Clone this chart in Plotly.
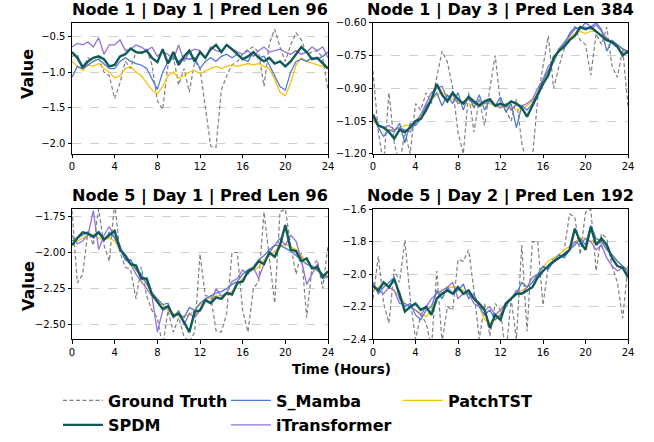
import plotly.graph_objects as go

HOURS = [0, 0.5, 1, 1.5, 2, 2.5, 3, 3.5, 4, 4.5, 5, 5.5, 6, 6.5, 7, 7.5, 8, 8.5, 9, 9.5,
         10, 10.5, 11, 11.5, 12, 12.5, 13, 13.5, 14, 14.5, 15, 15.5, 16, 16.5, 17, 17.5,
         18, 18.5, 19, 19.5, 20, 20.5, 21, 21.5, 22, 22.5, 23, 23.5, 24]

# ---- Node 1 | Day 1 | Pred Len 96 ----
p1_gt = [-0.78, -0.75, -0.95, -0.80, -0.85, -0.80, -1.00, -1.05, -1.37, -1.15, -0.85, -0.95, -0.72, -0.75,
         -0.68, -0.90, -1.40, -1.52, -0.90, -0.78, -1.18, -0.95, -1.28, -0.85, -0.95, -1.50, -2.03, -2.05,
         -1.25, -1.05, -0.90, -0.85, -0.75, -0.68, -0.65, -0.72, -1.20, -0.60, -0.40, -0.65, -0.85, -0.62,
         -0.45, -0.55, -0.75, -0.72, -0.70, -0.80, -1.25]
p1_spdm = [-0.72, -0.80, -0.93, -0.85, -0.80, -0.78, -0.82, -0.92, -0.90, -0.78, -0.75, -0.67, -0.72, -0.73,
           -0.70, -0.80, -0.86, -0.68, -0.88, -0.72, -0.90, -0.78, -0.70, -0.85, -0.72, -0.80, -0.68, -0.62,
           -0.72, -0.62, -0.68, -0.75, -0.82, -0.78, -0.72, -0.80, -0.85, -0.80, -0.88, -0.85, -0.92, -0.85,
           -0.75, -0.65, -0.72, -0.82, -0.80, -0.88, -0.95]
p1_smamba = [-1.07, -0.92, -0.95, -0.90, -0.85, -0.82, -0.88, -0.95, -0.95, -0.85, -0.80, -0.85, -0.88, -0.90,
             -0.95, -1.10, -1.24, -1.00, -0.85, -0.80, -0.85, -0.80, -0.82, -0.80, -0.95, -0.85, -0.80, -0.85,
             -0.78, -0.75, -0.80, -0.75, -0.82, -0.85, -0.72, -0.80, -0.78, -0.90, -1.05, -1.20, -1.25, -1.00,
             -0.85, -0.82, -0.85, -0.80, -0.82, -0.78, -0.72]
p1_itrans = [-0.65, -0.60, -0.62, -0.58, -0.65, -0.52, -0.75, -0.62, -0.62, -0.55, -0.70, -0.68, -0.62, -0.65,
             -0.70, -0.65, -0.78, -0.72, -0.75, -0.82, -0.62, -0.85, -0.72, -0.68, -0.70, -0.80, -0.65, -0.70,
             -0.72, -0.62, -0.68, -0.72, -0.75, -0.70, -0.78, -0.70, -0.65, -0.72, -0.70, -0.68, -0.72, -0.75,
             -0.70, -0.75, -0.72, -0.65, -0.70, -0.65, -0.80]
p1_patch = [-0.85, -0.92, -0.98, -0.90, -0.92, -0.88, -0.95, -1.00, -1.08, -1.05, -0.95, -0.92, -1.00, -1.05,
            -1.15, -1.25, -1.30, -1.20, -1.05, -1.00, -1.08, -1.05, -1.00, -0.98, -1.02, -0.98, -0.95, -0.92,
            -0.95, -0.92, -0.90, -0.92, -0.90, -0.88, -0.90, -0.88, -0.92, -0.95, -1.10, -1.28, -1.33, -1.15,
            -0.90, -0.80, -0.85, -0.88, -0.90, -0.92, -0.95]

# ---- Node 1 | Day 3 | Pred Len 384 ----
p2_gt = [-0.82, -1.10, -1.25, -0.92, -1.15, -1.25, -1.10, -1.20, -0.97, -1.00, -0.92, -0.97, -0.85, -0.73,
         -0.78, -0.90, -1.10, -1.20, -0.92, -1.10, -0.95, -1.07, -0.90, -0.75, -0.97, -1.00, -1.05, -0.95,
         -1.15, -1.25, -1.22, -0.95, -0.80, -0.66, -0.90, -0.80, -0.72, -0.65, -0.62, -0.68, -0.70, -0.84,
         -0.65, -0.70, -0.62, -0.80, -0.85, -0.72, -0.98]
p2_spdm = [-1.02, -1.07, -1.08, -1.10, -1.13, -1.09, -1.10, -1.08, -1.05, -1.04, -1.00, -0.95, -0.88, -0.93,
           -0.96, -0.92, -0.95, -0.97, -0.94, -0.96, -0.98, -0.96, -0.95, -0.98, -0.97, -0.98, -0.96, -0.97,
           -0.99, -1.03, -0.98, -0.93, -0.88, -0.84, -0.76, -0.73, -0.71, -0.68, -0.66, -0.62, -0.63, -0.62,
           -0.64, -0.66, -0.68, -0.69, -0.71, -0.75, -0.73]
p2_smamba = [-1.03, -1.08, -1.12, -1.09, -1.10, -1.06, -1.15, -1.06, -1.07, -1.04, -0.98, -0.95, -0.92, -0.98,
             -0.93, -0.97, -0.92, -1.00, -0.93, -0.99, -0.93, -1.00, -0.95, -0.98, -0.94, -1.01, -0.97, -1.08,
             -0.98, -1.00, -0.97, -0.92, -0.86, -0.82, -0.78, -0.72, -0.70, -0.65, -0.62, -0.63, -0.60, -0.62,
             -0.60, -0.63, -0.73, -0.68, -0.70, -0.72, -0.73]
p2_itrans = [-1.04, -1.07, -1.08, -1.07, -1.09, -1.08, -1.09, -1.10, -1.06, -1.02, -0.97, -0.92, -0.90, -0.89,
             -0.95, -0.93, -0.97, -0.96, -0.95, -0.97, -0.96, -0.97, -0.96, -0.98, -0.99, -0.97, -1.00, -0.97,
             -0.98, -0.97, -0.95, -0.90, -0.86, -0.80, -0.77, -0.72, -0.69, -0.66, -0.63, -0.62, -0.62, -0.63,
             -0.61, -0.64, -0.67, -0.69, -0.70, -0.72, -0.74]
p2_patch = [-1.05, -1.07, -1.08, -1.09, -1.09, -1.08, -1.07, -1.07, -1.05, -1.02, -0.99, -0.95, -0.93, -0.92,
            -0.93, -0.95, -0.96, -0.97, -0.97, -0.98, -0.97, -0.97, -0.97, -0.98, -0.98, -0.99, -0.99, -1.00,
            -0.99, -0.98, -0.96, -0.92, -0.87, -0.82, -0.78, -0.73, -0.70, -0.67, -0.65, -0.64, -0.65, -0.64,
            -0.64, -0.66, -0.67, -0.69, -0.71, -0.72, -0.74]

# ---- Node 5 | Day 1 | Pred Len 96 ----
p3_gt = [-1.71, -2.21, -2.15, -1.85, -1.95, -1.70, -1.95, -2.06, -1.65, -2.00, -2.10, -2.12, -2.32, -2.10,
         -2.30, -2.40, -2.45, -2.65, -2.40, -2.55, -2.45, -2.58, -2.62, -2.55, -2.01, -2.30, -2.30, -2.54,
         -2.55, -2.42, -2.00, -2.00, -2.40, -2.55, -2.25, -2.20, -1.72, -2.05, -2.35, -1.72, -1.70, -1.95,
         -2.15, -2.00, -2.45, -2.10, -2.05, -2.25, -1.95]
p3_spdm = [-1.95, -1.90, -1.86, -1.87, -1.89, -1.86, -1.91, -1.88, -1.85, -1.98, -2.02, -2.08, -2.09, -2.18,
           -2.18, -2.29, -2.34, -2.39, -2.37, -2.44, -2.42, -2.48, -2.55, -2.41, -2.40, -2.33, -2.35, -2.31,
           -2.32, -2.28, -2.29, -2.21, -2.20, -2.13, -2.11, -2.06, -2.08, -2.00, -2.03, -1.95, -1.81, -1.98,
           -1.99, -2.06, -2.04, -2.11, -2.10, -2.17, -2.13]
p3_smamba = [-1.92, -1.90, -1.88, -1.86, -1.90, -1.86, -1.92, -1.86, -1.90, -1.98, -2.05, -2.05, -2.12, -2.15,
             -2.22, -2.28, -2.32, -2.36, -2.35, -2.45, -2.42, -2.45, -2.38, -2.40, -2.35, -2.32, -2.30, -2.28,
             -2.27, -2.25, -2.22, -2.20, -2.15, -2.12, -2.10, -2.05, -2.02, -1.98, -1.95, -1.95, -1.97, -1.99,
             -2.02, -2.05, -2.08, -2.10, -2.12, -2.15, -2.17]
p3_itrans = [-1.88, -1.94, -1.92, -1.88, -1.71, -1.98, -1.88, -1.82, -1.90, -1.95, -2.05, -2.08, -2.15, -2.20,
             -2.25, -2.30, -2.55, -2.40, -2.38, -2.45, -2.40, -2.50, -2.42, -2.45, -2.40, -2.32, -2.35, -2.25,
             -2.30, -2.28, -2.20, -2.18, -2.12, -2.15, -2.10, -2.18, -2.08, -2.00, -1.95, -1.90, -1.95, -1.88,
             -1.92, -2.05, -2.22, -2.15, -2.08, -2.18, -2.17]
p3_patch = [-1.90, -1.92, -1.90, -1.88, -1.88, -1.90, -1.91, -1.90, -1.92, -1.98, -2.04, -2.08, -2.12, -2.17,
            -2.22, -2.28, -2.32, -2.36, -2.40, -2.42, -2.44, -2.44, -2.43, -2.40, -2.36, -2.33, -2.31, -2.30,
            -2.30, -2.29, -2.27, -2.22, -2.18, -2.14, -2.12, -2.10, -2.05, -2.02, -1.99, -1.96, -1.94, -1.96,
            -1.98, -2.02, -2.06, -2.10, -2.13, -2.15, -2.16]

# ---- Node 5 | Day 2 | Pred Len 192 ----
p4_gt = [-2.15, -1.89, -2.18, -2.30, -1.97, -2.05, -1.79, -2.15, -2.40, -2.25, -2.30, -2.45, -1.98, -2.42,
         -2.20, -2.22, -1.91, -1.92, -1.85, -2.10, -2.40, -2.18, -2.38, -2.18, -2.22, -2.50, -2.15, -2.40,
         -1.82, -2.35, -1.80, -1.80, -2.19, -1.95, -1.90, -1.88, -1.85, -1.63, -1.65, -1.88, -1.62, -1.60,
         -1.98, -1.75, -1.78, -1.95, -2.05, -2.27, -1.95]
p4_spdm = [-2.07, -2.10, -2.05, -2.08, -2.03, -2.12, -2.23, -2.20, -2.18, -2.22, -2.20, -2.25, -2.15, -2.12,
           -2.10, -2.12, -2.08, -2.12, -2.10, -2.15, -2.18, -2.22, -2.33, -2.25, -2.28, -2.18, -2.15, -2.12,
           -2.12, -2.10, -2.08, -2.02, -1.98, -1.95, -1.92, -1.90, -1.88, -1.85, -1.72, -1.80, -1.85, -1.71,
           -1.82, -1.78, -1.82, -1.90, -1.95, -1.96, -2.02]
p4_smamba = [-2.05, -2.12, -2.08, -2.05, -2.02, -2.15, -2.20, -2.18, -2.25, -2.28, -2.22, -2.20, -2.10, -2.15,
             -2.08, -2.12, -2.10, -2.06, -2.15, -2.12, -2.20, -2.25, -2.22, -2.28, -2.25, -2.20, -2.15, -2.12,
             -2.05, -2.08, -2.05, -2.00, -1.95, -1.97, -1.92, -1.88, -1.90, -1.85, -1.82, -1.78, -1.82, -1.70,
             -1.78, -1.80, -1.85, -1.88, -1.92, -1.95, -1.98]
p4_itrans = [-2.08, -2.10, -2.12, -2.08, -2.10, -2.18, -2.18, -2.20, -2.22, -2.25, -2.20, -2.15, -2.12, -2.10,
             -2.08, -2.05, -2.15, -2.12, -2.12, -2.18, -2.20, -2.22, -2.20, -2.25, -2.22, -2.18, -2.15, -2.10,
             -2.12, -2.08, -2.02, -2.00, -1.98, -1.95, -1.93, -1.90, -1.87, -1.85, -1.80, -1.82, -1.78, -1.80,
             -1.85, -1.82, -1.90, -1.95, -1.98, -1.96, -2.00]
p4_patch = [-2.10, -2.08, -2.06, -2.08, -2.10, -2.14, -2.18, -2.20, -2.22, -2.24, -2.26, -2.22, -2.15, -2.10,
            -2.08, -2.08, -2.08, -2.10, -2.12, -2.15, -2.20, -2.28, -2.30, -2.28, -2.24, -2.18, -2.15, -2.12,
            -2.10, -2.08, -2.05, -2.00, -1.96, -1.92, -1.90, -1.88, -1.85, -1.83, -1.80, -1.78, -1.78, -1.80,
            -1.78, -1.80, -1.84, -1.88, -1.92, -1.95, -1.97]

TITLES = ["Node 1 | Day 1 | Pred Len 96", "Node 1 | Day 3 | Pred Len 384",
          "Node 5 | Day 1 | Pred Len 96", "Node 5 | Day 2 | Pred Len 192"]
X_TICKS = [0, 4, 8, 12, 16, 20, 24]
Y_TICKS = [[-0.5, -1.0, -1.5, -2.0],
           [-0.60, -0.75, -0.90, -1.05, -1.20],
           [-1.75, -2.00, -2.25, -2.50],
           [-1.6, -1.8, -2.0, -2.2, -2.4]]
Y_TICKTEXT = [["−0.5", "−1.0", "−1.5", "−2.0"],
              ["−0.60", "−0.75", "−0.90", "−1.05", "−1.20"],
              ["−1.75", "−2.00", "−2.25", "−2.50"],
              ["−1.6", "−1.8", "−2.0", "−2.2", "−2.4"]]
Y_RANGES = [[-2.14, -0.31], [-1.20, -0.60], [-2.60, -1.70], [-2.40, -1.60]]

PANELS = [
    dict(gt=p1_gt, spdm=p1_spdm, smamba=p1_smamba, itrans=p1_itrans, patch=p1_patch),
    dict(gt=p2_gt, spdm=p2_spdm, smamba=p2_smamba, itrans=p2_itrans, patch=p2_patch),
    dict(gt=p3_gt, spdm=p3_spdm, smamba=p3_smamba, itrans=p3_itrans, patch=p3_patch),
    dict(gt=p4_gt, spdm=p4_spdm, smamba=p4_smamba, itrans=p4_itrans, patch=p4_patch),
]

SERIES = [  # key, name, color, width, dash, legend id
    ("gt", "Ground Truth", "#7f7f7f", 1.2, "4px,2.5px", "legend"),
    ("patch", "PatchTST", "#f4c20d", 1.3, "solid", "legend3"),
    ("itrans", "iTransformer", "#9370db", 1.3, "solid", "legend5"),
    ("smamba", "S_Mamba", "#4f79d6", 1.3, "solid", "legend2"),
    ("spdm", "SPDM", "#0f5c57", 2.4, "solid", "legend4"),
]

W, H = 654, 442
XDOM = [[72 / W, 328 / W], [373 / W, 628 / W]]
YDOM_TOP = [1 - 156 / H, 1 - 23 / H]
YDOM_BOT = [1 - 344 / H, 1 - 212 / H]
DOMS = [(XDOM[0], YDOM_TOP), (XDOM[1], YDOM_TOP), (XDOM[0], YDOM_BOT), (XDOM[1], YDOM_BOT)]

FONT = "DejaVu Sans"
fig = go.Figure()

for i, panel in enumerate(PANELS):
    xa = "x" if i == 0 else f"x{i+1}"
    ya = "y" if i == 0 else f"y{i+1}"
    for key, name, color, width, dash, lg in SERIES:
        fig.add_trace(go.Scatter(
            x=HOURS, y=panel[key], mode="lines", name=name,
            line=dict(color=color, width=width, dash=dash),
            xaxis=xa, yaxis=ya, showlegend=(i == 0), legend=lg,
            hoverinfo="skip",
        ))
    xd, yd = DOMS[i]
    axis_common = dict(showline=True, mirror=True, linecolor="black", linewidth=1,
                       ticks="outside", ticklen=3.5, tickwidth=0.8, tickcolor="black",
                       tickfont=dict(family=FONT, size=10, color="black"), zeroline=False,
                       automargin=False)
    fig.layout[("xaxis" if i == 0 else f"xaxis{i+1}")] = dict(
        domain=xd, range=[0, 24], tickvals=X_TICKS, showgrid=False,
        anchor=ya, **axis_common)
    fig.layout[("yaxis" if i == 0 else f"yaxis{i+1}")] = dict(
        domain=yd, range=Y_RANGES[i], tickvals=Y_TICKS[i], ticktext=Y_TICKTEXT[i],
        showgrid=True, gridcolor="#cfcfcf", gridwidth=0.8, griddash="dash",
        anchor=xa, **axis_common)
    cx = (xd[0] + xd[1]) / 2
    fig.add_annotation(text=TITLES[i], x=cx, y=yd[1] + 1 / H, xref="paper", yref="paper",
                       xanchor="center", yanchor="bottom", showarrow=False,
                       font=dict(family=FONT, size=16, color="black", weight="bold"))

for yc in (75, 290):
    fig.add_annotation(text="Value", x=28 / W, y=1 - yc / H, xref="paper", yref="paper",
                       textangle=-90, showarrow=False, xanchor="center", yanchor="middle",
                       font=dict(family=FONT, size=16, color="black", weight="bold"))

fig.add_annotation(text="Time (Hours)", x=341 / W, y=1 - 374 / H, xref="paper", yref="paper",
                   showarrow=False, xanchor="center", yanchor="middle",
                   font=dict(family=FONT, size=13.5, color="black", weight="bold"))

leg_font = dict(family=FONT, size=16, color="black", weight="bold")
LEG_POS = {"legend": (58, 406), "legend2": (226, 406), "legend3": (398, 406),
           "legend4": (58, 431), "legend5": (226, 431)}
layout_legends = {}
for lg, (lx, ly) in LEG_POS.items():
    layout_legends[lg] = dict(x=lx / W, y=1 - ly / H, xanchor="left", yanchor="middle",
                              font=leg_font, bgcolor="rgba(0,0,0,0)", itemwidth=40,
                              orientation="v")

fig.update_layout(
    width=W, height=H, margin=dict(l=0, r=0, t=0, b=0),
    paper_bgcolor="white", plot_bgcolor="white",
    **layout_legends,
)

fig.write_html("out.html", config={"displayModeBar": False},
               post_script="document.body.style.margin='0';document.body.style.overflow='hidden';")
